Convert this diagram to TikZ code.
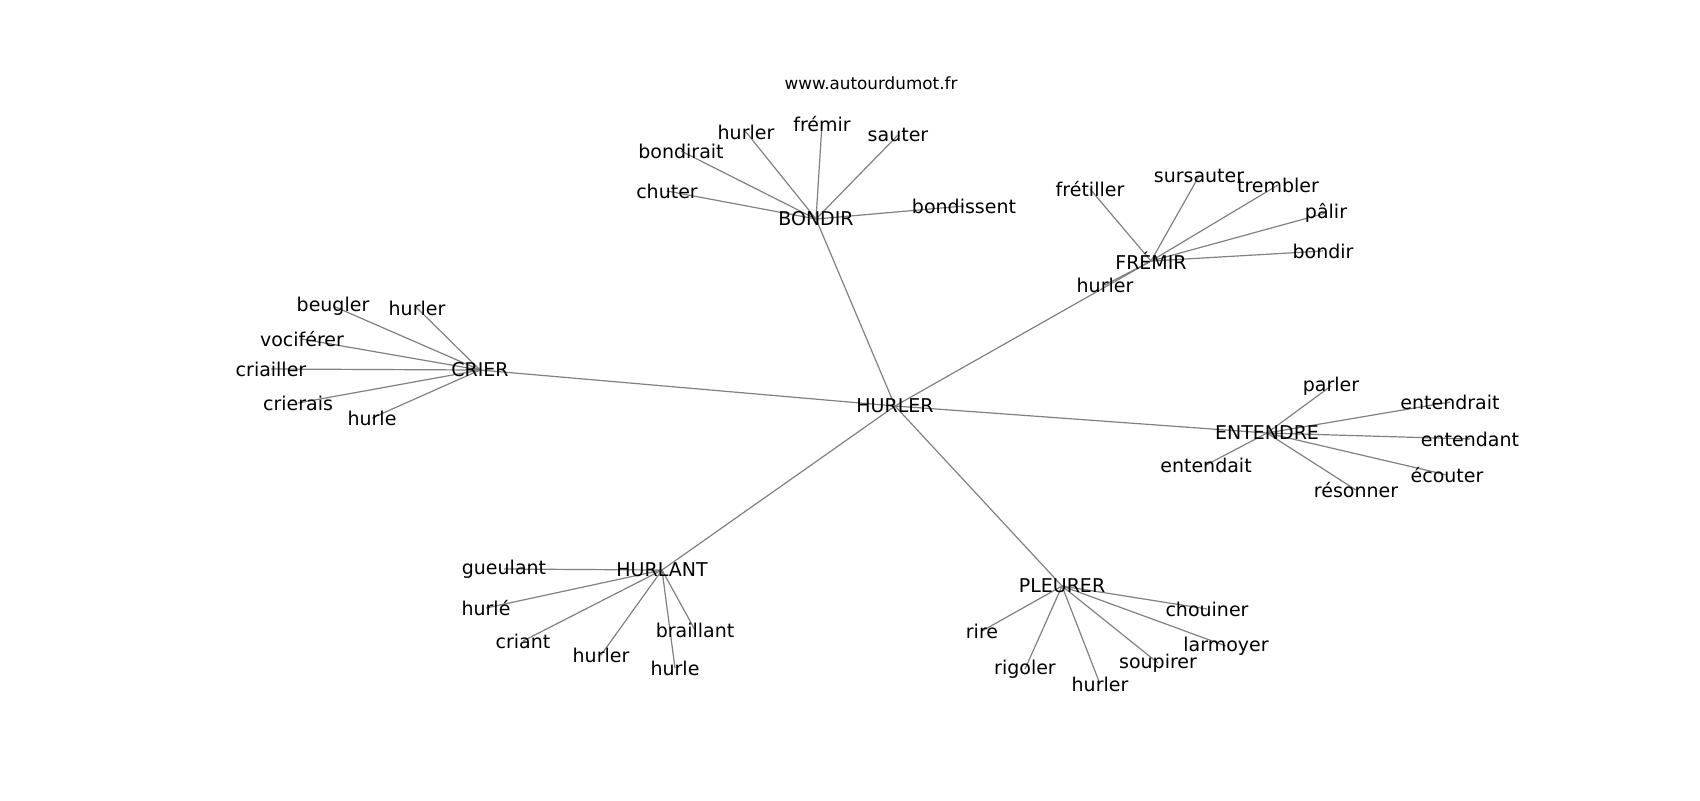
\documentclass[tikz,border=0pt]{standalone}
\usepackage{fontspec}
\setmainfont{DejaVu Sans}
\usepackage{xcolor}
\usepackage{tikz}

\pgfdeclarelayer{bg}
\pgfsetlayers{bg,main}

\tikzset{
    word/.style={inner sep=0pt, font=\fontsize{9.5}{11}\selectfont},
    edge/.style={draw=black!50, line width=0.6pt}
}

\begin{document}
\begin{tikzpicture}[x=0.5pt, y=-0.5pt]
    \useasboundingbox (0,0) rectangle (1700,800);

    % Title
    \node[inner sep=0pt, font=\fontsize{8.4}{10}\selectfont] (site) at (871,83) {www.autourdumot.fr};

    % Centre
    \node[word] (hurler) at (895,406) {HURLER};

    % Bondir
    \node[word] (bondir) at (816,219) {BONDIR};
    \node[word] (b-hurler) at (746,132) {hurler};
    \node[word] (b-fremir) at (822,124) {frémir};
    \node[word] (b-sauter) at (898,135) {sauter};
    \node[word] (b-bondirait) at (681,151) {bondirait};
    \node[word] (b-chuter) at (667,191) {chuter};
    \node[word] (b-bondissent) at (964,206) {bondissent};

    % Fremir
    \node[word] (fremir) at (1151,261) {FRÉMIR};
    \node[word] (f-fretiller) at (1090,189) {frétiller};
    \node[word] (f-sursauter) at (1199,176) {sursauter};
    \node[word] (f-trembler) at (1278,185) {trembler};
    \node[word] (f-palir) at (1326,213) {pâlir};
    \node[word] (f-bondir) at (1323,251) {bondir};
    \node[word] (f-hurler) at (1105,285) {hurler};

    % Crier
    \node[word] (crier) at (480,370) {CRIER};
    \node[word] (c-beugler) at (333,306) {beugler};
    \node[word] (c-hurler) at (417,308) {hurler};
    \node[word] (c-vociferer) at (302,339) {vociférer};
    \node[word] (c-criailler) at (271,369) {criailler};
    \node[word] (c-crierais) at (298,403) {crierais};
    \node[word] (c-hurle) at (372,418) {hurle};

    % Entendre
    \node[word] (entendre) at (1267,433) {ENTENDRE};
    \node[word] (e-parler) at (1331,386) {parler};
    \node[word] (e-entendrait) at (1450,402) {entendrait};
    \node[word] (e-entendant) at (1470,439) {entendant};
    \node[word] (e-ecouter) at (1447,475) {écouter};
    \node[word] (e-resonner) at (1356,490) {résonner};
    \node[word] (e-entendait) at (1206,465) {entendait};

    % Hurlant
    \node[word] (hurlant) at (662,570) {HURLANT};
    \node[word] (h-gueulant) at (504,569) {gueulant};
    \node[word] (h-hurle) at (486,608) {hurlé};
    \node[word] (h-criant) at (523,641) {criant};
    \node[word] (h-hurler) at (601,655) {hurler};
    \node[word] (h-hurle2) at (675,668) {hurle};
    \node[word] (h-braillant) at (695,630) {braillant};

    % Pleurer
    \node[word] (pleurer) at (1062,586) {PLEURER};
    \node[word] (p-chouiner) at (1207,609) {chouiner};
    \node[word] (p-larmoyer) at (1226,646) {larmoyer};
    \node[word] (p-soupirer) at (1158,663) {soupirer};
    \node[word] (p-hurler) at (1100,684) {hurler};
    \node[word] (p-rigoler) at (1025,669) {rigoler};
    \node[word] (p-rire) at (982,631) {rire};

    % Edges
    \begin{pgfonlayer}{bg}
    \draw[edge] (hurler.center) -- (bondir.center);
    \draw[edge] (hurler.center) -- (fremir.center);
    \draw[edge] (hurler.center) -- (crier.center);
    \draw[edge] (hurler.center) -- (entendre.center);
    \draw[edge] (hurler.center) -- (hurlant.center);
    \draw[edge] (hurler.center) -- (pleurer.center);

    \draw[edge] (bondir.center) -- (b-hurler.center);
    \draw[edge] (bondir.center) -- (b-fremir.center);
    \draw[edge] (bondir.center) -- (b-sauter.center);
    \draw[edge] (bondir.center) -- (b-bondirait.center);
    \draw[edge] (bondir.center) -- (b-chuter.center);
    \draw[edge] (bondir.center) -- (b-bondissent.center);

    \draw[edge] (fremir.center) -- (f-fretiller.center);
    \draw[edge] (fremir.center) -- (f-sursauter.center);
    \draw[edge] (fremir.center) -- (f-trembler.center);
    \draw[edge] (fremir.center) -- (f-palir.center);
    \draw[edge] (fremir.center) -- (f-bondir.center);
    \draw[edge] (fremir.center) -- (f-hurler.center);

    \draw[edge] (crier.center) -- (c-beugler.center);
    \draw[edge] (crier.center) -- (c-hurler.center);
    \draw[edge] (crier.center) -- (c-vociferer.center);
    \draw[edge] (crier.center) -- (c-criailler.center);
    \draw[edge] (crier.center) -- (c-crierais.center);
    \draw[edge] (crier.center) -- (c-hurle.center);

    \draw[edge] (entendre.center) -- (e-parler.center);
    \draw[edge] (entendre.center) -- (e-entendrait.center);
    \draw[edge] (entendre.center) -- (e-entendant.center);
    \draw[edge] (entendre.center) -- (e-ecouter.center);
    \draw[edge] (entendre.center) -- (e-resonner.center);
    \draw[edge] (entendre.center) -- (e-entendait.center);

    \draw[edge] (hurlant.center) -- (h-gueulant.center);
    \draw[edge] (hurlant.center) -- (h-hurle.center);
    \draw[edge] (hurlant.center) -- (h-criant.center);
    \draw[edge] (hurlant.center) -- (h-hurler.center);
    \draw[edge] (hurlant.center) -- (h-hurle2.center);
    \draw[edge] (hurlant.center) -- (h-braillant.center);

    \draw[edge] (pleurer.center) -- (p-chouiner.center);
    \draw[edge] (pleurer.center) -- (p-larmoyer.center);
    \draw[edge] (pleurer.center) -- (p-soupirer.center);
    \draw[edge] (pleurer.center) -- (p-hurler.center);
    \draw[edge] (pleurer.center) -- (p-rigoler.center);
    \draw[edge] (pleurer.center) -- (p-rire.center);
    \end{pgfonlayer}
\end{tikzpicture}
\end{document}
